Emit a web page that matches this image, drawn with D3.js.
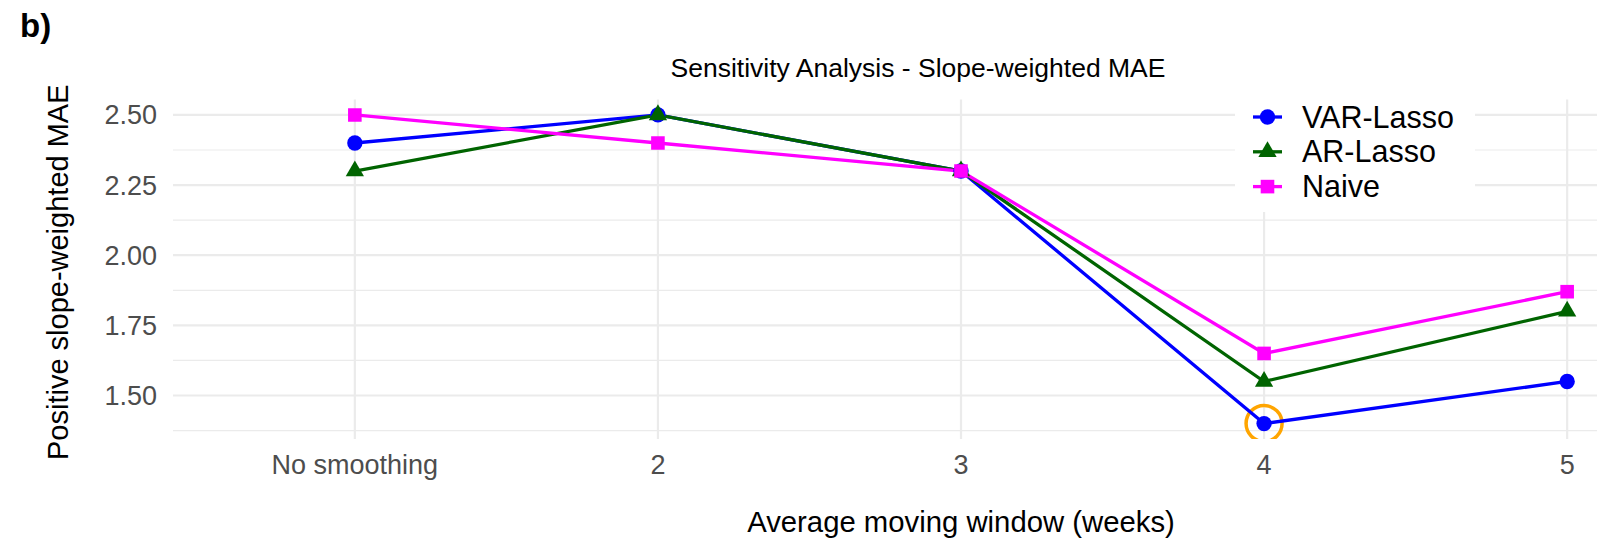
<!DOCTYPE html>
<html>
<head>
<meta charset="utf-8">
<script src="https://cdn.jsdelivr.net/npm/d3@7"></script>
<style>
  body { margin: 0; background: #fff; }
  text { font-family: "Liberation Sans", Arial, sans-serif; }
</style>
</head>
<body>
<div id="chart"></div>
<script>
// data
const categories = ["No smoothing", "2", "3", "4", "5"];
const seriesNames = ["VAR-Lasso", "AR-Lasso", "Naive"];
const varLasso = [2.40, 2.50, 2.30, 1.40, 1.55];
const arLasso = [2.30, 2.50, 2.30, 1.55, 1.80];
const naive = [2.50, 2.40, 2.30, 1.65, 1.87];
const yTicks = [1.50, 1.75, 2.00, 2.25, 2.50];
const yMinor = [1.375, 1.625, 1.875, 2.125, 2.375];
const highlight = { category: "4", value: 1.40 }; // orange ring

const width = 1597, height = 555;
const panel = { left: 173, right: 1749, top: 99.5, bottom: 439 };

const colors = { "VAR-Lasso": "#0000FF", "AR-Lasso": "#006400", "Naive": "#FF00FF" };
const shapes = { "VAR-Lasso": d3.symbolCircle, "AR-Lasso": d3.symbolTriangle, "Naive": d3.symbolSquare };
const sizes = { "VAR-Lasso": 185, "AR-Lasso": 145, "Naive": 185 };

const series = [
  { name: "VAR-Lasso", values: varLasso },
  { name: "AR-Lasso", values: arLasso },
  { name: "Naive", values: naive },
];

const svg = d3.select("#chart").append("svg")
  .attr("width", width)
  .attr("height", height);

// scales (ggplot style: discrete x with 0.6 step padding, y with 5% expansion)
const x = d3.scalePoint().domain(categories).range([panel.left, panel.right]).padding(0.6);
const allVals = varLasso.concat(arLasso, naive);
const lo = d3.min(allVals), hi = d3.max(allVals);
const pad = (hi - lo) * 0.05;
const y = d3.scaleLinear().domain([lo - pad, hi + pad]).range([panel.bottom, panel.top]);

svg.append("defs").append("clipPath").attr("id", "panelClip")
  .append("rect")
  .attr("x", panel.left).attr("y", panel.top)
  .attr("width", panel.right - panel.left).attr("height", panel.bottom - panel.top);

// grid
const grid = svg.append("g");
grid.selectAll(".minor").data(yMinor).enter().append("line")
  .attr("x1", panel.left).attr("x2", panel.right)
  .attr("y1", d => y(d)).attr("y2", d => y(d))
  .attr("stroke", "#EBEBEB").attr("stroke-width", 1.2);
grid.selectAll(".major").data(yTicks).enter().append("line")
  .attr("x1", panel.left).attr("x2", panel.right)
  .attr("y1", d => y(d)).attr("y2", d => y(d))
  .attr("stroke", "#EBEBEB").attr("stroke-width", 2.2);
grid.selectAll(".vmajor").data(categories).enter().append("line")
  .attr("x1", d => x(d)).attr("x2", d => x(d))
  .attr("y1", panel.top).attr("y2", panel.bottom)
  .attr("stroke", "#EBEBEB").attr("stroke-width", 2.2);

// axes labels (no axis lines, like theme_minimal)
svg.append("g").selectAll("text").data(yTicks).enter().append("text")
  .attr("x", 157).attr("y", d => y(d))
  .attr("dy", "0.35em")
  .attr("text-anchor", "end")
  .attr("font-size", 27)
  .attr("fill", "#4D4D4D")
  .text(d => d3.format(".2f")(d));

svg.append("g").selectAll("text").data(categories).enter().append("text")
  .attr("x", d => x(d)).attr("y", 474)
  .attr("text-anchor", "middle")
  .attr("font-size", 27)
  .attr("fill", "#4D4D4D")
  .text(d => d);

// highlight ring, drawn below the lines
svg.append("circle")
  .attr("clip-path", "url(#panelClip)")
  .attr("cx", x(highlight.category)).attr("cy", y(highlight.value))
  .attr("r", 18)
  .attr("fill", "none")
  .attr("stroke", "#FFA500")
  .attr("stroke-width", 3.5);

// lines + points
const line = d3.line().x((d, i) => x(categories[i])).y(d => y(d));
const plot = svg.append("g").attr("clip-path", "url(#panelClip)");
series.forEach(s => {
  plot.append("path")
    .attr("d", line(s.values))
    .attr("fill", "none")
    .attr("stroke", colors[s.name])
    .attr("stroke-width", 3.3);
});
series.forEach(s => {
  plot.selectAll(null).data(s.values).enter().append("path")
    .attr("d", d3.symbol().type(shapes[s.name]).size(sizes[s.name]))
    .attr("transform", (d, i) => `translate(${x(categories[i])},${y(d)})`)
    .attr("fill", colors[s.name]);
});

// legend (inside, top right, white background)
const legend = svg.append("g");
legend.append("rect")
  .attr("x", 1235).attr("y", 97).attr("width", 240).attr("height", 115)
  .attr("fill", "#fff");
const rows = legend.selectAll(".row").data(seriesNames).enter().append("g")
  .attr("transform", (d, i) => `translate(1253,${117 + i * 34.8})`);
rows.append("line")
  .attr("x1", 0).attr("x2", 29).attr("y1", 0).attr("y2", 0)
  .attr("stroke", d => colors[d]).attr("stroke-width", 3.3);
rows.append("path")
  .attr("d", d => d3.symbol().type(shapes[d]).size(sizes[d])())
  .attr("transform", "translate(14.5,0)")
  .attr("fill", d => colors[d]);
rows.append("text")
  .attr("x", 49).attr("dy", "0.35em")
  .attr("font-size", 30.5)
  .attr("fill", "#000")
  .text(d => d);

// titles
svg.append("text")
  .attr("x", 918).attr("y", 77)
  .attr("text-anchor", "middle")
  .attr("font-size", 26.5)
  .text("Sensitivity Analysis - Slope-weighted MAE");

svg.append("text")
  .attr("x", (panel.left + panel.right) / 2).attr("y", 532)
  .attr("text-anchor", "middle")
  .attr("font-size", 29.3)
  .text("Average moving window (weeks)");

svg.append("text")
  .attr("transform", `translate(68,${(panel.top + panel.bottom) / 2 + 3}) rotate(-90)`)
  .attr("text-anchor", "middle")
  .attr("font-size", 29)
  .text("Positive slope-weighted MAE");

svg.append("text")
  .attr("x", 20).attr("y", 37)
  .attr("font-size", 33)
  .attr("font-weight", "bold")
  .text("b)");
</script>
</body>
</html>
